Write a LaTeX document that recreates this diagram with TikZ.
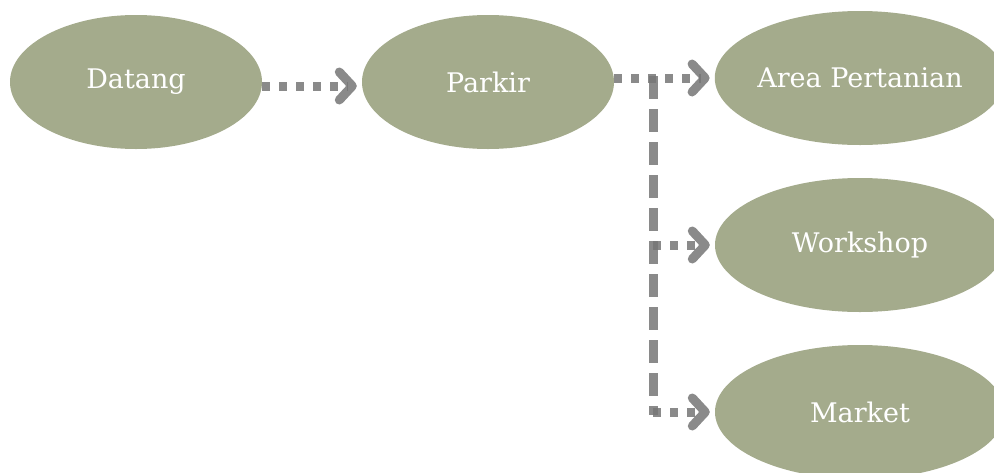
\documentclass[tikz,border=0pt]{standalone}
\usepackage{fontspec}
\setmainfont{DejaVu Serif}
\usepackage{tikz}
\usetikzlibrary{arrows.meta,positioning,shapes.geometric}
\definecolor{cstep}{RGB}{164,171,140}
\definecolor{cflow}{RGB}{118,118,118}

\begin{document}
\begin{tikzpicture}[x=1pt,y=-1pt,
    stepnode/.style={ellipse,fill=cstep,text=white,inner sep=0pt,
      minimum width=252pt,minimum height=134pt,font=\fontsize{27}{32}\selectfont},
    widenode/.style={stepnode,minimum width=290pt},
    flow/.style={draw=cflow,draw opacity=0.85,line width=9pt,dash pattern=on 8pt off 9pt,
      -{Straight Barb[length=13pt,width=28pt,line cap=round,line join=round]}},
    trunk/.style={draw=cflow,draw opacity=0.85,line width=9pt,dash pattern=on 23pt off 10pt}]
  \useasboundingbox (0,0) rectangle (994,472);
  % main line
  \node[stepnode] (datang) at (136,82) {Datang};
  \node[stepnode] (parkir) at (488,82) {Parkir};
  \node[widenode] (area) at (860,78) {Area Pertanian};
  \node[widenode] (workshop) at (860,245) {Workshop};
  \node[widenode] (market) at (860,412) {Market};
  \coordinate (jn) at (653,78);
  \coordinate (jw) at (jn |- workshop);
  \coordinate (jm) at (jn |- market);
  \draw[flow,shorten >=5pt] ([yshift=-4pt]datang.east) -- ([yshift=-4pt]parkir.west);
  \draw[flow,shorten >=5pt] (parkir.east |- area) -- (area.west);
  % branches
  \draw[trunk] ([yshift=2pt]jn) -- ([yshift=-3pt]jm);
  \draw[flow,shorten >=5pt] (jw) -- (workshop.west);
  \draw[flow,shorten >=5pt] (jm) -- (market.west);
\end{tikzpicture}
\end{document}
